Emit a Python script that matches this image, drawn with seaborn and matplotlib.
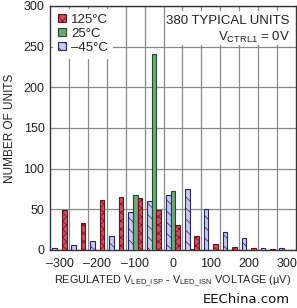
import numpy as np
import pandas as pd
import matplotlib
matplotlib.use("Agg")
import matplotlib.pyplot as plt
from matplotlib.patches import Patch, Rectangle
import seaborn as sns

# ---- data ----
voltage_uv = [-300, -250, -200, -150, -100, -50, 0, 50, 100, 150, 200, 250, 300]
units_125c = [49, 33, 62, 65, 64, 49, 31, 17, 7, 4, 3, 1, 0]
units_25c = [0, 0, 0, 0, 68, 241, 73, 1, 0, 0, 0, 0, 0]
units_m45c = [3, 6, 11, 17, 47, 60, 68, 75, 51, 22, 15, 3, 3]
temp_labels = ["125°C", "25°C", "–45°C"]
x_ticks = [-300, -200, -100, 0, 100, 200, 300]
x_tick_labels = ["–300", "–200", "–100", "0", "100", "200", "300"]
y_ticks = [0, 50, 100, 150, 200, 250, 300]

# ---- styles ----
styles = {
    "125°C": dict(facecolor="#c05666", edgecolor="#6e1020", hatch="xxxx"),
    "25°C": dict(facecolor="#6fa87d", edgecolor="#1f4a2b", hatch=None),
    "–45°C": dict(facecolor="#c8c8f0", edgecolor="#262660", hatch="\\\\\\"),
}

sns.set_theme(style="white")
plt.rcParams["font.family"] = ["Liberation Sans", "DejaVu Sans"]
plt.rcParams["hatch.linewidth"] = 0.5

frames = []
for label, vals in zip(temp_labels, [units_125c, units_25c, units_m45c]):
    frames.append(pd.DataFrame({"voltage": voltage_uv, "units": vals, "temp": label}))
df = pd.concat(frames, ignore_index=True)
df = df[df["units"] > 0]

hue_order = ["–45°C", "25°C", "125°C"]

fig = plt.figure(figsize=(2.97, 3.08), dpi=100)
ax = fig.add_axes([50 / 297, 1 - 250 / 308, 246 / 297, 244 / 308])

sns.barplot(data=df, x="voltage", y="units", hue="temp", hue_order=hue_order,
            native_scale=True, width=0.75, dodge=True, errorbar=None,
            legend=False, ax=ax, palette=["#c8c8f0", "#6fa87d", "#c45a68"])

for label, cont in zip(hue_order, ax.containers):
    st = styles[label]
    for p in cont.patches:
        p.set_facecolor(st["facecolor"])
        p.set_edgecolor(st["edgecolor"])
        p.set_linewidth(0.8)
        if st["hatch"]:
            p.set_hatch(st["hatch"])
        p.set_zorder(3)

ax.set_xlim(-325, 325)
ax.set_ylim(0, 300)
ax.set_xticks(x_ticks)
ax.set_xticklabels(x_tick_labels)
ax.set_xticks(np.arange(-275, 276, 50), minor=True)
ax.set_yticks(y_ticks)
ax.grid(False)
ax.grid(which="minor", axis="x", color="#8a8a8a", lw=0.9)
ax.grid(which="major", axis="y", color="#8a8a8a", lw=0.9)
ax.set_axisbelow(True)
ax.tick_params(axis="both", which="both", length=0, labelsize=9, colors="#222222")
ax.tick_params(axis="x", pad=6)
ax.tick_params(axis="y", pad=4)
for s in ax.spines.values():
    s.set_color("#333333")
    s.set_linewidth(1.0)

ax.set_ylabel("NUMBER OF UNITS", fontsize=8.5, color="#222222", labelpad=5)
ax.set_xlabel(r"REGULATED $\mathregular{V_{LED\_ISP}}$ - $\mathregular{V_{LED\_ISN}}$ VOLTAGE (µV)",
              fontsize=7.8, color="#222222", labelpad=2)

# white panel behind the annotation
ax.add_patch(Rectangle((0.53, 0.84), 0.47, 0.14, transform=ax.transAxes,
                       facecolor="white", edgecolor="none", zorder=1.5))
ax.text(0.975, 0.962, "380 TYPICAL UNITS", transform=ax.transAxes, ha="right", va="top",
        fontsize=9.5, color="#222222", zorder=4)
ax.text(0.975, 0.90, r"$\mathregular{V_{CTRL1}}$ = 0V", transform=ax.transAxes, ha="right", va="top",
        fontsize=9.5, color="#222222", zorder=4)

handles = [Patch(facecolor=styles[l]["facecolor"], edgecolor=styles[l]["edgecolor"],
                 hatch=styles[l]["hatch"], linewidth=0.8) for l in temp_labels]
leg = ax.legend(handles, temp_labels, loc="upper left", frameon=True, fontsize=9.5,
                handlelength=0.6, handleheight=0.6, handletextpad=0.4, labelspacing=0.15,
                borderaxespad=0.2, borderpad=0.4, fancybox=False)
leg.get_frame().set_facecolor("white")
leg.get_frame().set_edgecolor("none")
leg.get_frame().set_alpha(1)
leg.set_zorder(5)
for t in leg.get_texts():
    t.set_color("#222222")

fig.text(0.975, 0.006, "EEChina.com", ha="right", va="bottom", fontsize=9.5,
         color="#111111", family=["DejaVu Sans"])

fig.savefig("out.png", dpi=100)
